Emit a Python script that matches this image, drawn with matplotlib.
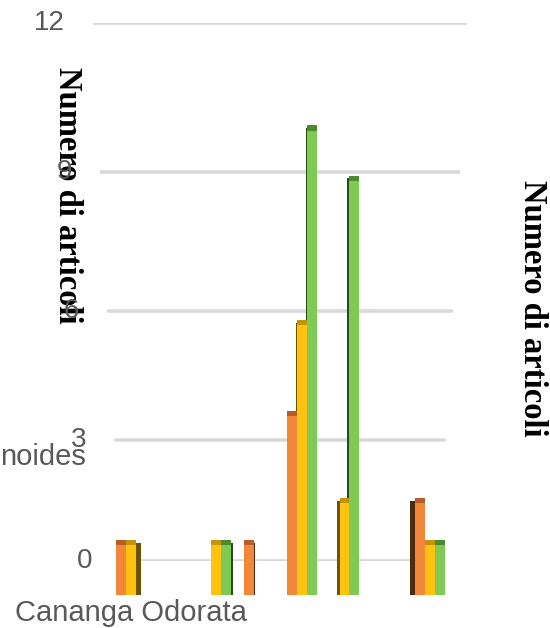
import numpy as np
import matplotlib
matplotlib.use("Agg")
import matplotlib.pyplot as plt

# ---- data -------------------------------------------------------------
category_labels = ["Cananga Odorata", "", "", "", "", "", "", ""]
orange_values = [1, 0, 0, 1, 4, 0, 0, 2]
yellow_values = [1, 0, 1, 0, 6, 2, 0, 1]
green_values = [0, 0, 1, 0, 10, 9, 0, 1]
y_ticks = [0, 3, 6, 9, 12]
axis_title = "Numero di articoli"
stray_label = "noides"

# ---- figure geometry (pixels) ------------------------------------------
W, H, DPI = 550, 628, 100
fig = plt.figure(figsize=(W / DPI, H / DPI), dpi=DPI)
fig.patch.set_facecolor("white")

B = 0.01079  # perspective factor of the value axis


def fwd(v):
    v = np.asarray(v, dtype=float)
    return v / (1.0 - B * v)


def inv(f):
    f = np.asarray(f, dtype=float)
    return f / (1.0 + B * f)


def fy(py):
    return (H - py) / H


# axis titles (drawn under the value labels)
fig.text(67 / W, fy(195), axis_title, rotation=-90, ha="center", va="center",
         fontsize=23.5, fontweight="bold", family="Liberation Serif",
         color="black", zorder=-1)
fig.text(532 / W, fy(308), axis_title, rotation=-90, ha="center", va="center",
         fontsize=23.5, fontweight="bold", family="Liberation Serif",
         color="black", zorder=-1)

# back wall: gridlines and value labels
back_bottom, back_top = 561, 23
ax_back = fig.add_axes([0, fy(back_bottom), 1, fy(back_top) - fy(back_bottom)])
ax_back.set_yscale("function", functions=(fwd, inv))
ax_back.set_ylim(0, 12)
ax_back.set_xlim(0, 1)
ax_back.axis("off")
ax_back.patch.set_alpha(0)

f_max = float(fwd(12))
for v in y_ticks:
    t = float(fwd(v)) / f_max
    left = 120 - 27 * t
    right = 440 + 27 * t
    ax_back.hlines(v, left / W, right / W, color="#d9d9d9", lw=2.6, zorder=1)
    ax_back.text((left - 28) / W, v, str(v), ha="right", va="center",
                 fontsize=20, color="#595959", family="Liberation Sans",
                 zorder=5)

# front plane: the columns
x_left_px, x_step_px = 131, 42.7
zero_px, unit_px = 581, 40.66
front_bottom, front_top = 595, 20
ax = fig.add_axes([(x_left_px - 0.5 * x_step_px) / W, fy(front_bottom),
                   8 * x_step_px / W, fy(front_top) - fy(front_bottom)])
ax.set_yscale("function", functions=(fwd, inv))
base = float(inv(-(front_bottom - zero_px) / unit_px))
top = float(inv((zero_px - front_top) / unit_px))
ax.set_ylim(base, top)
ax.set_xlim(-0.5, 7.5)
ax.axis("off")
ax.patch.set_alpha(0)

series = [
    (orange_values, -1, "#F2863A", "#B55E28", "#4E2A10"),
    (yellow_values, 0, "#FFC20E", "#C4930A", "#6E5200"),
    (green_values, 1, "#7FCA54", "#4C8A2E", "#2A4A18"),
]
bw = 0.234
cap_f = 0.13  # cap thickness in scaled units
view_centre = 3.5
x = np.arange(len(orange_values))
for vals, off, face, cap, side in series:
    vals = np.asarray(vals, dtype=float)
    for xi, v in zip(x, vals):
        if v <= 0:
            continue
        xc = xi + off * bw
        # front face
        ax.bar(xc, v - base, bottom=base, width=bw, color=face, zorder=3,
               edgecolor="none")
        # darker top cap
        cap_lo = float(inv(fwd(v) - cap_f))
        ax.bar(xc, v - cap_lo, bottom=cap_lo, width=bw, color=cap, zorder=4,
               edgecolor="none")
        # visible side face, turned away from the view centre
        sw = 0.032 * abs(xc - view_centre)
        if sw < 0.01:
            continue
        side_top = float(inv(fwd(v) - cap_f / 2))
        if xc < view_centre:
            sx = xc + bw / 2 + sw / 2
        else:
            sx = xc - bw / 2 - sw / 2
        ax.bar(sx, side_top - base, bottom=base, width=sw, color=side,
               zorder=2, edgecolor="none")

# category label
fig.text((x_left_px + 0 * x_step_px) / W, fy(613), category_labels[0],
         ha="center", va="center", fontsize=21, color="#595959",
         family="Liberation Sans")
fig.text(86 / W, fy(457), stray_label, ha="right", va="center",
         fontsize=21, color="#595959", family="Liberation Sans")

fig.savefig("out.png", dpi=DPI)
